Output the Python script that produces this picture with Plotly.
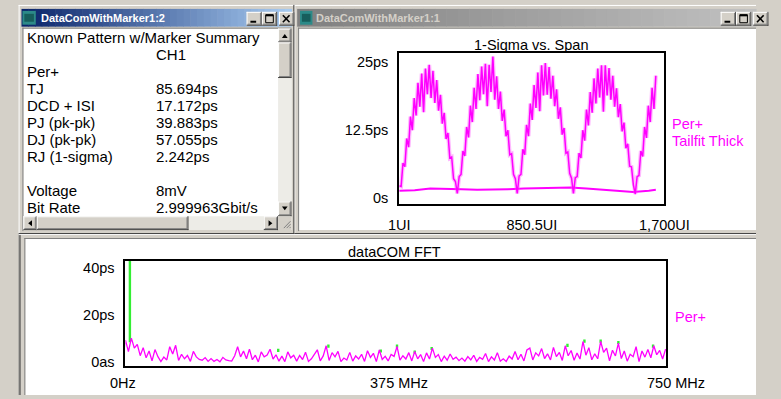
import plotly.graph_objects as go

W, H = 781, 399

# ---------------- data ----------------
summary_labels = ["Known Pattern w/Marker Summary", "", "Per+", "TJ", "DCD + ISI",
                  "PJ (pk-pk)", "DJ (pk-pk)", "RJ (1-sigma)", "", "Voltage", "Bit Rate"]
summary_values = ["", "CH1", "", "85.694ps", "17.172ps", "39.883ps", "57.055ps",
                  "2.242ps", "", "8mV", "2.999963Gbit/s"]

# 1-Sigma vs. Span (ps), sampled every 12 UI starting at 1 UI
sigma_start_ui = 1
sigma_step_ui = 12
sigma_values = [
    # arch 1
    2.3, 2.2, 6.5, 5.8, 11.0, 9.4, 15.0, 12.5, 18.4, 15.2, 21.2, 16.8, 22.9, 15.8, 23.8, 19.1,
    24.5, 18.4, 23.4, 17.5, 21.7, 16.1, 19.0, 13.7, 15.7, 10.9, 12.0, 7.4, 7.6, 3.6, 3.1, 0.9,
    # arch 2
    4.0, 4.4, 8.7, 7.8, 13.1, 11.2, 17.0, 14.0, 20.3, 16.4, 22.8, 18.0, 24.2, 19.1, 24.7, 16.9,
    24.5, 19.5, 26.0, 18.1, 22.4, 16.4, 19.6, 14.2, 16.3, 11.4, 12.5, 8.0, 8.2, 4.4, 3.6, 0.9,
    # arch 3
    4.1, 4.4, 9.0, 8.0, 13.5, 11.4, 17.4, 14.4, 20.8, 16.6, 23.1, 16.0, 24.4, 18.9, 24.8,
    19.0, 24.1, 18.3, 22.5, 16.9, 20.0, 14.6, 16.7, 11.7, 12.9, 8.3, 8.5, 4.6, 3.7, 0.9,
    # arch 4
    3.8, 4.0, 8.3, 7.4, 12.5, 10.6, 16.3, 13.4, 19.5, 15.7, 22.0, 17.4, 23.8, 18.5, 24.4, 15.9,
    24.4, 18.9, 23.9, 18.1, 22.5, 16.8, 20.2, 14.9, 17.3, 12.3, 13.9, 9.2, 10.0, 5.9, 5.8, 2.5, 0.8,
    # arch 5 (partial)
    4.0, 4.2, 8.7, 7.7, 13.1, 11.1, 17.0, 14.0, 20.3, 16.4, 22.5,
]
tailfit_ui = [1, 100, 200, 300, 400, 500, 600, 700, 800, 900, 1000, 1100, 1200, 1300, 1400, 1500, 1600, 1645]
tailfit_values = [1.4, 1.5, 1.8, 1.8, 1.7, 1.6, 1.6, 1.7, 1.8, 1.9, 2.0, 2.0, 1.8, 1.6, 1.3, 1.2, 1.4, 1.6]

sigma_tick_vals = [0, 12.5, 25]
sigma_tick_text = ["0s", "12.5ps", "25ps"]
span_tick_vals = [1, 850.5, 1700]
span_tick_text = ["1UI", "850.5UI", "1,700UI"]

# dataCOM FFT (ps), sampled every 4 MHz from 0 MHz
fft_step_mhz = 4
fft_values = [
    1.2, 9.4, 4.5, 10.2, 6.0, 7.6, 2.8, 6.2, 1.9, 4.8,
    0.6, 5.4, 2.4, 0.3, 2.2, 1.0, 6.6, 3.5, 7.2, 0.8,
    3.4, 1.5, 2.9, 0.4, 4.6, 2.3, 1.2, 0.9, 2.0, 0.4,
    1.6, 0.4, 1.2, 0.2, 2.1, 1.0, 0.7, 0.5, 2.8, 6.6,
    2.3, 4.8, 1.5, 5.6, 1.1, 3.0, 0.2, 4.4, 2.3, 3.1,
    5.5, 1.4, 3.2, 0.5, 2.6, 0.3, 4.4, 1.9, 3.0, 0.5,
    2.9, 1.2, 4.3, 0.4, 1.5, 3.7, 5.3, 0.6, 2.7, 7.0,
    0.8, 4.1, 2.3, 4.6, 0.3, 1.8, 1.0, 4.2, 0.5, 2.7,
    1.4, 3.4, 0.4, 4.9, 2.1, 3.8, 0.3, 5.2, 1.2, 2.5,
    0.6, 3.3, 2.5, 6.7, 0.9, 2.8, 1.4, 4.1, 0.6, 4.6,
    1.5, 3.3, 0.3, 4.0, 1.4, 6.0, 2.1, 3.3, 0.3, 2.6,
    0.9, 3.5, 1.3, 2.2, 0.7, 1.8, 0.5, 2.4, 1.0, 3.0,
    0.4, 2.1, 1.3, 3.7, 0.3, 2.3, 1.0, 4.1, 0.5, 1.5,
    0.4, 2.6, 1.4, 4.6, 1.1, 3.4, 0.6, 5.2, 6.0, 1.0,
    4.0, 2.7, 5.8, 1.6, 3.6, 1.0, 6.3, 2.4, 4.2, 0.8,
    7.0, 2.8, 5.0, 0.9, 3.9, 1.4, 8.8, 3.0, 6.2, 1.1,
    3.6, 1.5, 8.8, 4.2, 6.0, 0.6, 5.1, 2.7, 8.1, 1.6,
    4.8, 0.5, 3.4, 2.4, 6.6, 0.3, 4.8, 2.2, 5.4, 1.9,
    7.0, 3.2, 5.0, 1.4, 5.6,
]
# green peak markers: frequency, top and the level where the magenta trace hides them
fft_spike_mhz = [10, 211, 279, 350, 372, 396, 419, 603, 626, 648, 672, 719]
fft_spike_top = [46, 5.7, 7.5, 5.4, 7.5, 5.0, 6.5, 7.8, 9.6, 9.6, 9.0, 7.5]
fft_spike_base = [8.5, 4.4, 6.2, 4.1, 6.2, 3.7, 5.2, 6.5, 8.3, 8.3, 7.7, 6.2]

fft_y_tick_vals = [0, 20, 40]
fft_y_tick_text = ["0as", "20ps", "40ps"]
fft_x_tick_vals = [0, 375, 750]
fft_x_tick_text = ["0Hz", "375 MHz", "750 MHz"]

# ---------------- layout geometry (pixels) ----------------
TOP_PLOT = dict(x0=407, x1=685, y0=53, y1=206)
FFT_PLOT = dict(x0=120, x1=687, y0=263, y1=370)
SIGMA_RANGE = [-1.1, 26.6]
SPAN_RANGE = [1, 1700]
FFT_X_RANGE = [4, 737]
FFT_Y_RANGE = [-1.7, 42.9]

MAGENTA = "#FF00FF"
GREEN = "#33EE33"
FACE = "#D4D0C8"
FONT = "Liberation Sans"


def fx(x):
    return x / W


def fy(y):
    return 1 - y / H


shapes = []
annotations = []


def rect(x0, y0, x1, y1, fill, line=None, lw=1):
    shapes.append(dict(type="rect", xref="paper", yref="paper",
                       x0=fx(x0), x1=fx(x1), y0=fy(y1), y1=fy(y0),
                       fillcolor=fill, layer="below",
                       line=dict(width=lw if line else 0, color=line or fill)))


def hline(x0, x1, y, color, w=1):
    shapes.append(dict(type="line", xref="paper", yref="paper", x0=fx(x0), x1=fx(x1),
                       y0=fy(y), y1=fy(y), line=dict(color=color, width=w), layer="below"))


def vline(x, y0, y1, color, w=1):
    shapes.append(dict(type="line", xref="paper", yref="paper", x0=fx(x), x1=fx(x),
                       y0=fy(y0), y1=fy(y1), line=dict(color=color, width=w), layer="below"))


def seg(x0, y0, x1, y1, color, w=1.5):
    shapes.append(dict(type="line", xref="paper", yref="paper", x0=fx(x0), x1=fx(x1),
                       y0=fy(y0), y1=fy(y1), line=dict(color=color, width=w), layer="above"))


def tri(points, color="black"):
    path = "M " + " L ".join(f"{fx(a)},{fy(b)}" for a, b in points) + " Z"
    shapes.append(dict(type="path", xref="paper", yref="paper", path=path,
                       fillcolor=color, line=dict(width=0), layer="above"))


def gradient(x0, x1, y0, y1, c0, c1, n=40):
    step = (x1 - x0) / n
    for i in range(n):
        t = i / (n - 1)
        c = tuple(round(c0[k] + (c1[k] - c0[k]) * t) for k in range(3))
        rect(x0 + i * step, y0, x0 + (i + 1) * step + 0.6, y1, "rgb(%d,%d,%d)" % c)


def button3d(x0, y0, x1, y1):
    rect(x0, y0, x1, y1, FACE)
    hline(x0, x1, y0 + 0.5, "white")
    vline(x0 + 0.5, y0, y1, "white")
    hline(x0, x1, y1 - 0.5, "#404040")
    vline(x1 - 0.5, y0, y1, "#404040")
    hline(x0 + 1, x1 - 1, y1 - 1.5, "#808080")
    vline(x1 - 1.5, y0 + 1, y1 - 1, "#808080")


def caption_buttons(x, y):
    button3d(x, y, x + 16, y + 14)
    seg(x + 4, y + 10, x + 10, y + 10, "black", 2)
    button3d(x + 16, y, x + 32, y + 14)
    shapes.append(dict(type="rect", xref="paper", yref="paper", x0=fx(x + 20), x1=fx(x + 28),
                       y0=fy(y + 11), y1=fy(y + 3), line=dict(color="black", width=1), layer="above"))
    seg(x + 20, y + 3.5, x + 28, y + 3.5, "black", 2)
    button3d(x + 34, y, x + 50, y + 14)
    seg(x + 38, y + 3.5, x + 45, y + 10.5, "black", 1.6)
    seg(x + 45, y + 3.5, x + 38, y + 10.5, "black", 1.6)


def text(x, y, s, size=15, color="black", xanchor="left", family=FONT):
    annotations.append(dict(x=fx(x), y=fy(y), xref="paper", yref="paper", text=s,
                            showarrow=False, xanchor=xanchor, yanchor="middle",
                            font=dict(family=family, size=size, color=color)))


# ---------------- window chrome ----------------
# bottom window
rect(8, 236, 781, 399, FACE)
vline(8.5, 236, 399, "#808080")
vline(9.5, 236, 399, "#404040")
hline(8, 781, 236.5, "white")
rect(15, 241, 781, 399, "white")
vline(14.5, 240, 399, "#808080")
hline(14, 781, 240.5, "#808080")

# right window
rect(297, 4, 781, 236, FACE)
hline(297, 781, 4.5, "white")
vline(297.5, 4, 236, "white")
hline(297, 781, 235.5, "#404040")
gradient(300, 781, 8, 26, (128, 128, 128), (192, 192, 192))
rect(302, 28, 781, 232, "white")
vline(301.5, 27, 233, "#808080")
hline(301, 781, 27.5, "#808080")
rect(303, 10, 316, 24, "#2C8A88")
rect(305, 13, 314, 21, "#175E5C")
text(318, 17.5, "<b>DataComWithMarker1:1</b>", size=11, color="#D4D0C8")
caption_buttons(744, 11)

# left window
rect(8, 4, 297, 236, FACE)
hline(8, 297, 4.5, "white")
vline(8.5, 4, 236, "white")
vline(296.5, 4, 236, "#404040")
hline(8, 297, 235.5, "#404040")
gradient(11, 294, 8, 26, (10, 36, 106), (166, 202, 240))
rect(13, 28, 294, 232, "white")
vline(12.5, 27, 233, "#808080")
hline(12, 294, 27.5, "#808080")
rect(12, 10, 26, 24, "#2C8A88")
rect(14, 13, 24, 21, "#175E5C")
text(29, 17.5, "<b>DataComWithMarker1:2</b>", size=11, color="white")
caption_buttons(247, 11)

# vertical scrollbar
rect(280, 28, 294, 218, "#EDECE7")
button3d(280, 28, 294, 42)
tri([(284, 37.5), (290, 37.5), (287, 33.5)])
button3d(280, 42, 294, 78)
button3d(280, 203, 294, 218)
tri([(284, 208), (290, 208), (287, 212)])
# horizontal scrollbar
rect(13, 218, 280, 232, "#EDECE7")
button3d(13, 218, 27, 232)
tri([(22, 222), (22, 228), (18, 225)])
button3d(27, 218, 186, 232)
button3d(265, 218, 280, 232)
tri([(270, 222), (270, 228), (274, 225)])
rect(280, 218, 294, 232, FACE)
for k in range(3):
    seg(292 - 3 * k, 230, 293, 229 - 3 * k, "#808080", 1)

# summary text
row_y0, row_dy = 37, 17.2
for i, (lab, val) in enumerate(zip(summary_labels, summary_values)):
    y = row_y0 + i * row_dy
    if lab:
        text(15, y, lab)
    if val:
        text(150, y, val)

# chart titles / legends
text(545, 45, "1-Sigma vs. Span", size=14.5, xanchor="center")
text(691, 125, "Per+", size=14.5, color=MAGENTA)
text(691, 142, "Tailfit Thick", size=14.5, color=MAGENTA)
text(402, 254, "dataCOM FFT", size=14.5, xanchor="center")
text(694, 320, "Per+", size=14.5, color=MAGENTA)

# FFT x tick labels (placed through the axis mapping; end labels sit just past the drawn range)
fft_px_per_mhz = (FFT_PLOT["x1"] - FFT_PLOT["x0"]) / (FFT_X_RANGE[1] - FFT_X_RANGE[0])
for v, t in zip(fft_x_tick_vals, fft_x_tick_text):
    text(FFT_PLOT["x0"] + (v - FFT_X_RANGE[0]) * fft_px_per_mhz, 387, t, size=14.5, xanchor="center")

# ---------------- traces ----------------
sigma_ui = [sigma_start_ui + sigma_step_ui * i for i in range(len(sigma_values))]
fft_mhz = [fft_step_mhz * i for i in range(len(fft_values))]

spike_x, spike_y = [], []
for f, b, v in zip(fft_spike_mhz, fft_spike_base, fft_spike_top):
    spike_x += [f, f, None]
    spike_y += [b, v, None]

fig = go.Figure()
fig.add_trace(go.Scatter(x=tailfit_ui, y=tailfit_values, mode="lines",
                         line=dict(color=MAGENTA, width=2), xaxis="x", yaxis="y",
                         hoverinfo="skip", name="Tailfit Thick"))
fig.add_trace(go.Scatter(x=sigma_ui, y=sigma_values, mode="lines",
                         line=dict(color="rgba(255,80,255,0.4)", width=4), xaxis="x", yaxis="y",
                         hoverinfo="skip", name="Per+ halo"))
fig.add_trace(go.Scatter(x=sigma_ui, y=sigma_values, mode="lines",
                         line=dict(color=MAGENTA, width=1.5), xaxis="x", yaxis="y",
                         hoverinfo="skip", name="Per+"))
fig.add_trace(go.Scatter(x=spike_x, y=spike_y, mode="lines",
                         line=dict(color=GREEN, width=2.4), xaxis="x2", yaxis="y2",
                         hoverinfo="skip", name="FFT peaks"))
fig.add_trace(go.Scatter(x=fft_mhz, y=fft_values, mode="lines",
                         line=dict(color=MAGENTA, width=1.3), xaxis="x2", yaxis="y2",
                         hoverinfo="skip", name="Per+ FFT"))

axis_common = dict(showline=True, mirror=True, linecolor="black", linewidth=2,
                   showgrid=False, zeroline=False, ticks="", ticklen=0, fixedrange=True,
                   tickfont=dict(family=FONT, size=14.5, color="black"))

fig.update_layout(
    width=W, height=H, margin=dict(l=0, r=0, t=0, b=0),
    paper_bgcolor=FACE, plot_bgcolor="white", showlegend=False,
    shapes=shapes, annotations=annotations,
    xaxis=dict(domain=[fx(TOP_PLOT["x0"]), fx(TOP_PLOT["x1"])], range=SPAN_RANGE,
               tickvals=span_tick_vals, ticktext=span_tick_text, anchor="y",
               ticklabelstandoff=6, **axis_common),
    yaxis=dict(domain=[fy(TOP_PLOT["y1"]), fy(TOP_PLOT["y0"])], range=SIGMA_RANGE,
               tickvals=sigma_tick_vals, ticktext=sigma_tick_text, anchor="x",
               ticklabelstandoff=6, **axis_common),
    xaxis2=dict(domain=[fx(FFT_PLOT["x0"]), fx(FFT_PLOT["x1"])], range=FFT_X_RANGE,
                showticklabels=False, anchor="y2", **axis_common),
    yaxis2=dict(domain=[fy(FFT_PLOT["y1"]), fy(FFT_PLOT["y0"])], range=FFT_Y_RANGE,
                tickvals=fft_y_tick_vals, ticktext=fft_y_tick_text, anchor="x2",
                ticklabelstandoff=6, **axis_common),
)

fig.write_html("out.html", config={"displayModeBar": False},
               post_script="document.body.style.margin='0';document.body.style.overflow='hidden';")
